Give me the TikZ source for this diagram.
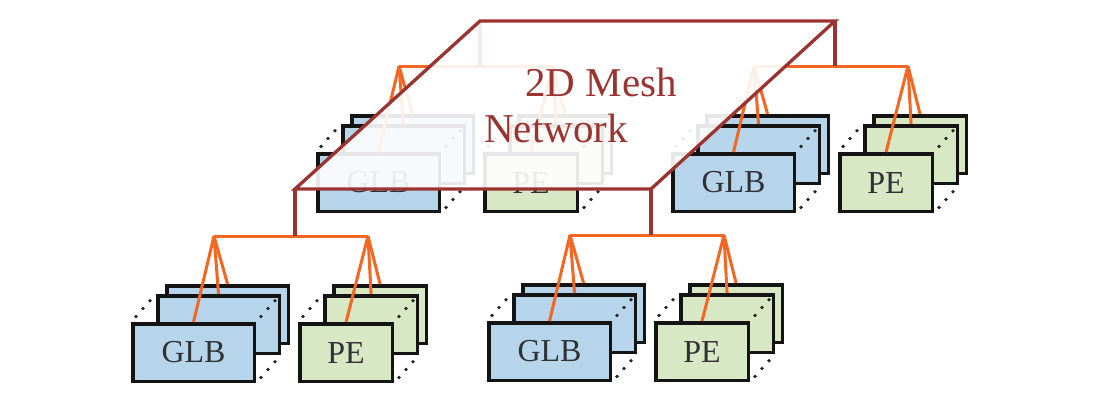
\documentclass[tikz,border=0pt]{standalone}
\usepackage{fontspec}
\setmainfont{Liberation Serif}
\definecolor{glbblue}{RGB}{183,213,234}
\definecolor{pegreen}{RGB}{216,232,196}
\definecolor{busorange}{RGB}{244,102,34}
\definecolor{meshred}{RGB}{155,52,48}
\definecolor{txtgray}{RGB}{46,50,54}
\tikzset{
  boxbase/.style={draw=black!92, line width=3.6pt, minimum height=57.5pt, anchor=north west,
    inner sep=0pt, text=txtgray, font=\fontsize{32}{36}\selectfont},
  glbbox/.style={boxbase, fill=glbblue, minimum width=121.5pt},
  pebox/.style={boxbase, fill=pegreen, minimum width=92.5pt},
  bus/.style={draw=busorange, line width=3pt},
  meshline/.style={draw=meshred, line width=3.3pt, line join=miter},
  dotmark/.style={fill=black!85},
  meshtext/.style={text=meshred, font=\fontsize{41}{46}\selectfont, anchor=base, inner sep=0pt},
  cluster/.pic={
    \node[glbbox] (-g3) at (34,-38) {};
    \node[glbbox] (-g2) at (25,-28) {};
    \node[glbbox] (-g1) at (0,0) {GLB};
    \node[pebox] (-p3) at (201,-38) {};
    \node[pebox] (-p2) at (192,-28) {};
    \node[pebox] (-p1) at (167,0) {PE};
    \foreach \f in {0.2,0.48,0.76}{
      \fill[dotmark] (25*\f,-28*\f) circle (1.9pt);
      \fill[dotmark] (125+25*\f,-28*\f) circle (1.9pt);
      \fill[dotmark] (125+25*\f,61-28*\f) circle (1.9pt);
      \fill[dotmark] (167+25*\f,-28*\f) circle (1.9pt);
      \fill[dotmark] (263+25*\f,-28*\f) circle (1.9pt);
      \fill[dotmark] (263+25*\f,61-28*\f) circle (1.9pt);
    }
    \coordinate (-bl) at (83,-86);
    \coordinate (-br) at (237,-86);
    \coordinate (-bm) at (164,-86);
    \draw[bus] (-bl) -- (-br);
    \draw[bus] (-bl) -- (-g1.north);
    \draw[bus] (-bl) -- (-g2.north);
    \draw[bus] (-bl) -- (-g3.north);
    \draw[bus] (-br) -- (-p1.north);
    \draw[bus] (-br) -- (-p2.north);
    \draw[bus] (-br) -- (-p3.north);
  }
}
\begin{document}
\begin{tikzpicture}[x=1pt,y=-1pt]
\useasboundingbox (0,0) rectangle (1119,407);
% back clusters
\pic (BL) at (316,152) {cluster};
\pic (BR) at (671,152) {cluster};
% plane corners
\coordinate (tl) at (480,21);
\coordinate (tr) at (835,21);
\coordinate (brc) at (651,189);
\coordinate (blc) at (295,189);
% hidden connector behind plane
\draw[meshline] (tl) -- (BL-bm);
% plane overlay
\fill[white, fill opacity=0.9] (tl) -- (tr) -- (brc) -- (blc) -- cycle;
\draw[meshline] (tl) -- (tr) -- (brc) -- (blc) -- cycle;
\draw[meshline] (tr) -- (BR-bm);
% front clusters
\pic (FL) at (131,322) {cluster};
\pic (FR) at (487,321) {cluster};
\draw[meshline] (blc) -- (FL-bm);
\draw[meshline] (brc) -- (FR-bm);
% label
\node[meshtext] (mt1) at (601,96) {2D Mesh};
\node[meshtext] (mt2) at (556,142) {Network};
\end{tikzpicture}
\end{document}
